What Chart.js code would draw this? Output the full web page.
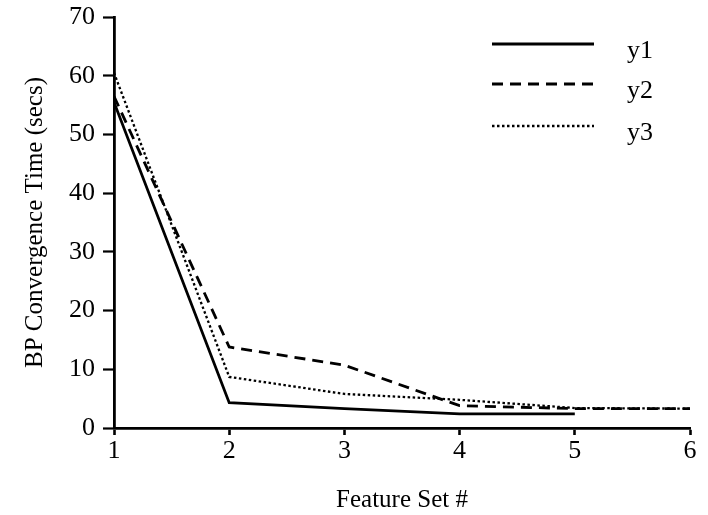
<!DOCTYPE html>
<html>
<head>
<meta charset="utf-8">
<script src="https://cdn.jsdelivr.net/npm/chart.js@4.4.1/dist/chart.umd.min.js"></script>
<style>
  html, body { margin: 0; padding: 0; background: #fff; }
  #wrap { width: 708px; height: 515px; }
</style>
</head>
<body>
<div id="wrap"><canvas id="c" width="708" height="515"></canvas></div>
<script>
// ---- data ----
const featureSets = [1, 2, 3, 4, 5, 6];
const y1Values = [55.5, 4.3, 3.3, 2.4, 2.4, null];
const y2Values = [56.5, 13.8, 10.7, 3.8, 3.3, 3.3];
const y3Values = [60.5, 8.7, 5.8, 4.8, 3.4, 3.3];
const seriesNames = ['y1', 'y2', 'y3'];
const yTickLabels = [0, 10, 20, 30, 40, 50, 60, 70];
const xTickLabels = [1, 2, 3, 4, 5, 6];

const FONT = '"Liberation Serif", "DejaVu Serif", serif';

function pts(vals) {
  return featureSets.map((x, i) => ({ x: x, y: vals[i] }));
}

const legendPlugin = {
  id: 'insideLegend',
  afterDraw(chart) {
    const ctx = chart.ctx;
    const dsets = chart.data.datasets;
    const x0 = 492, x1 = 594, tx = 627;
    const rows = [44, 84, 126];
    ctx.save();
    dsets.forEach((ds, i) => {
      const y = rows[i];
      ctx.beginPath();
      ctx.setLineDash(ds.borderDash || []);
      ctx.lineWidth = ds.borderWidth;
      ctx.strokeStyle = ds.borderColor;
      ctx.moveTo(x0, y);
      ctx.lineTo(x1, y);
      ctx.stroke();
      ctx.setLineDash([]);
      ctx.fillStyle = '#000';
      ctx.font = '26px ' + FONT;
      ctx.textBaseline = 'middle';
      ctx.textAlign = 'left';
      ctx.fillText(ds.label, tx, y + 7);
    });
    ctx.restore();
  }
};

// short minor ticks on the y axis at odd multiples of 5
const minorTickPlugin = {
  id: 'minorTicks',
  afterDraw(chart) {
    const ys = chart.scales.y;
    const ctx = chart.ctx;
    ctx.save();
    ctx.strokeStyle = '#000';
    ctx.lineWidth = 2.2;
    ys.ticks.forEach(t => {
      if (yTickLabels.includes(t.value)) return;
      const p = ys.getPixelForValue(t.value);
      ctx.beginPath();
      ctx.moveTo(ys.right - 5, p);
      ctx.lineTo(ys.right, p);
      ctx.stroke();
    });
    ctx.restore();
  }
};

new Chart(document.getElementById('c'), {
  type: 'line',
  data: {
    datasets: [
      { label: seriesNames[0], data: pts(y1Values), borderColor: '#000', borderWidth: 2.8, borderDash: [], pointRadius: 0, tension: 0, spanGaps: false },
      { label: seriesNames[1], data: pts(y2Values), borderColor: '#000', borderWidth: 2.8, borderDash: [11, 7], pointRadius: 0, tension: 0 },
      { label: seriesNames[2], data: pts(y3Values), borderColor: '#000', borderWidth: 2.3, borderDash: [2.5, 2.5], pointRadius: 0, tension: 0 }
    ]
  },
  options: {
    responsive: false,
    animation: false,
    devicePixelRatio: 1,
    layout: { padding: { left: 0, right: 18, top: 17, bottom: 0 } },
    plugins: { legend: { display: false }, tooltip: { enabled: false } },
    scales: {
      x: {
        type: 'linear',
        min: 1, max: 6,
        afterFit(s) { s.height = 515 - 428; s.paddingLeft = 0; s.paddingRight = 0; },
        afterBuildTicks(s) { s.ticks = xTickLabels.map(v => ({ value: v })); },
        border: { display: true, color: '#000', width: 2.8 },
        grid: { drawOnChartArea: false, drawTicks: true, tickLength: 7, tickColor: '#000', tickWidth: 2.6 },
        ticks: { color: '#000', font: { family: FONT, size: 26 }, padding: 1, maxRotation: 0 },
        title: { display: true, text: 'Feature Set #', color: '#000', font: { family: FONT, size: 25 }, padding: { top: 4, bottom: 0 } }
      },
      y: {
        type: 'linear',
        min: 0, max: 70,
        afterFit(s) { s.width = 114; s.paddingTop = 0; s.paddingBottom = 0; },
        afterBuildTicks(s) {
          const t = [];
          for (let v = 0; v <= 70; v += 5) t.push({ value: v });
          s.ticks = t;
        },
        border: { display: true, color: '#000', width: 2.8 },
        grid: {
          drawOnChartArea: false, drawTicks: true, tickLength: 11, tickWidth: 2.2,
          tickColor: (c) => (c.tick && yTickLabels.includes(c.tick.value)) ? '#000' : 'rgba(0,0,0,0)'
        },
        ticks: {
          color: '#000', font: { family: FONT, size: 26 }, padding: 8,
          callback: (v) => yTickLabels.includes(v) ? String(v) : ''
        },
        title: { display: true, text: 'BP Convergence Time (secs)', color: '#000', font: { family: FONT, size: 25 }, padding: { top: 20, bottom: 0 } }
      }
    }
  },
  plugins: [legendPlugin, minorTickPlugin]
});
</script>
</body>
</html>
